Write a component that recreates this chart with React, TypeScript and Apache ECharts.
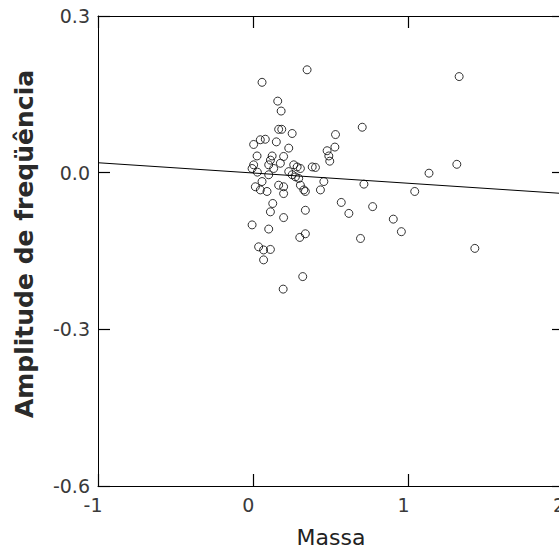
import React, { useEffect, useRef } from "react";
import * as echarts from "echarts";

// Massa (x) and amplitude de freqüência (y) of each observation
const massa: number[] = [
  0.346, 0.056, 0.157, 0.179, 0.163, 0.183, 0.25, 0.529, 0.002, 0.045,
  0.077, 0.148, 0.228, 0.525, 0.475, 0.486, 0.492, 0.024, 0.121, 0.11,
  0.099, 0.195, 0.002, -0.008, 0.174, 0.26, 0.282, 0.303, 0.379, 0.4,
  0.131, 0.099, 0.228, 0.25, 0.271, 0.292, 0.454, 0.013, 0.045, 0.088,
  0.163, 0.195, 0.303, 0.325, 0.432, 0.056, 0.195, 0.335, 0.566, 0.615,
  0.125, 0.11, 0.335, 0.195, -0.008, 0.099, 0.299, 0.335, 0.034, 0.066,
  0.11, 0.066, 0.318, 0.192, 1.325, 0.701, 1.31, 1.131, 0.712, 1.039,
  0.768, 0.901, 0.953, 0.69, 1.426, 0.026,
];
const amplitude: number[] = [
  0.197, 0.173, 0.137, 0.118, 0.083, 0.083, 0.075, 0.073, 0.054, 0.063,
  0.064, 0.059, 0.047, 0.049, 0.042, 0.032, 0.022, 0.032, 0.032, 0.024,
  0.015, 0.031, 0.015, 0.008, 0.018, 0.015, 0.011, 0.008, 0.011, 0.01,
  0.008, -0.004, 0.002, -0.004, -0.008, -0.011, -0.017, -0.027, -0.033, -0.036,
  -0.024, -0.027, -0.024, -0.033, -0.033, -0.017, -0.04, -0.036, -0.057, -0.078,
  -0.059, -0.075, -0.072, -0.086, -0.1, -0.108, -0.124, -0.117, -0.142, -0.148,
  -0.147, -0.167, -0.199, -0.223, 0.184, 0.087, 0.016, -0.001, -0.022, -0.036,
  -0.065, -0.089, -0.113, -0.126, -0.145, 0.001,
];

// Fitted regression line end points
const fitX: number[] = [-1, 2];
const fitY: number[] = [0.019, -0.04];

// Axis ranges and tick spacing
const xRange: number[] = [-1, 2, 1];
const yRange: number[] = [-0.6, 0.3, 0.3];

const xTitle = "Massa";
const yTitle = "Amplitude de freqüência";

const tickFont = {
  fontFamily: "DejaVu Sans",
  fontSize: 19,
  color: "#3a3a3a",
};

export default function App() {
  const ref = useRef<HTMLDivElement>(null);

  useEffect(() => {
    if (!ref.current) return;
    const chart = echarts.init(ref.current, undefined, { renderer: "svg" });

    const points = massa.map((m, i) => [m, amplitude[i]]);
    const fit = fitX.map((x, i) => [x, fitY[i]]);

    const makeAxisLine = () => ({
      show: true,
      onZero: false,
      lineStyle: { color: "#000", width: 1 },
    });
    const makeTick = () => ({
      show: true,
      inside: true,
      length: 12,
      lineStyle: { color: "#000", width: 1.2 },
    });

    const xCommon = () => ({
      type: "value" as const,
      min: xRange[0],
      max: xRange[1],
      interval: xRange[2],
      splitLine: { show: false },
      axisLine: makeAxisLine(),
      axisTick: makeTick(),
    });
    const yCommon = () => ({
      type: "value" as const,
      min: yRange[0],
      max: yRange[1],
      interval: yRange[2],
      splitLine: { show: false },
      axisLine: makeAxisLine(),
      axisTick: makeTick(),
    });

    chart.setOption({
      animation: false,
      backgroundColor: "#fff",
      grid: {
        left: 98,
        top: 16,
        width: 466,
        height: 470,
        containLabel: false,
        outerBoundsMode: "none",
      },
      xAxis: [
        {
          ...xCommon(),
          position: "bottom",
          axisLabel: {
            ...tickFont,
            margin: 9,
            padding: [0, 10, 0, 0],
            formatter: (v: number) => String(v),
          },
        },
        { ...xCommon(), position: "top", axisLabel: { show: false } },
      ],
      yAxis: [
        {
          ...yCommon(),
          position: "left",
          axisLabel: {
            ...tickFont,
            margin: 8,
            padding: [7, 0, 0, 0],
            formatter: (v: number) => v.toFixed(1),
          },
        },
        { ...yCommon(), position: "right", axisLabel: { show: false } },
      ],
      graphic: [
        {
          type: "text",
          x: 331,
          y: 537,
          style: {
            text: xTitle,
            fontFamily: "DejaVu Sans",
            fontSize: 22,
            fill: "#222",
            align: "center",
            verticalAlign: "middle",
          },
        },
        {
          type: "text",
          x: 24,
          y: 244,
          rotation: Math.PI / 2,
          style: {
            text: yTitle,
            fontFamily: "DejaVu Sans",
            fontWeight: "bold",
            fontSize: 25,
            fill: "#2a2a2a",
            align: "center",
            verticalAlign: "middle",
          },
        },
      ],
      series: [
        {
          type: "line",
          data: fit,
          showSymbol: false,
          symbol: "none",
          lineStyle: { color: "#000", width: 1 },
          z: 2,
        },
        {
          type: "scatter",
          data: points,
          symbol: "circle",
          symbolSize: 8,
          itemStyle: { color: "transparent", borderColor: "#000", borderWidth: 1 },
          z: 3,
        },
      ],
    });

    return () => chart.dispose();
  }, []);

  return (
    <div
      ref={ref}
      style={{ position: "absolute", left: 0, top: 0, width: 559, height: 549 }}
    />
  );
}
